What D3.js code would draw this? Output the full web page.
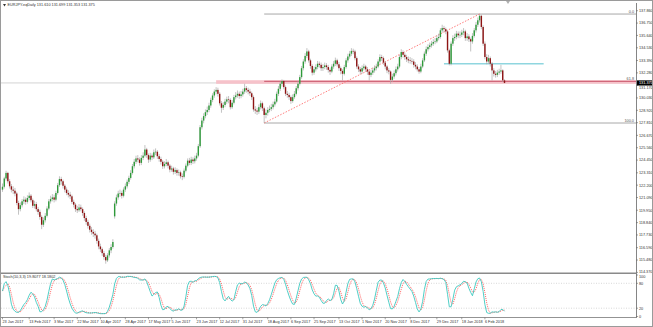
<!DOCTYPE html>
<html>
<head>
<meta charset="utf-8">
<script src="https://cdn.jsdelivr.net/npm/d3@7"></script>
<style>
  body { margin: 0; background: #fff; }
  svg { display: block; font-family: "Liberation Sans", Arial, sans-serif; }
</style>
</head>
<body>
<svg id="chart" width="653" height="327"></svg>
<script>
const symbolTitle = "EURJPY.eqDaily  131.610 131.699 131.353 131.375";
const stochTitle = "Stoch(10,3,3) 19.8077 18.1802";
const firstDay = "2017-01-23";

// daily bars: [open, high, low, close]
const bars = [
  [121.80,122.35,121.60,122.06],[122.06,122.95,121.90,122.80],[122.80,123.50,122.60,123.30],[123.30,123.40,122.35,122.55],[122.55,122.75,121.90,122.10],
  [122.10,122.30,121.55,121.80],[121.80,122.10,121.40,121.70],[121.70,121.95,121.20,121.45],[121.45,121.60,120.40,120.60],[120.60,120.80,119.55,120.05],
  [120.05,120.65,119.85,120.40],[120.40,120.95,120.20,120.75],[120.75,121.20,120.50,120.90],[120.90,121.10,120.45,120.70],[120.70,121.30,120.55,121.05],
  [121.05,121.55,120.85,121.25],[121.25,121.40,120.65,120.85],[120.85,121.00,120.15,120.35],[120.35,120.80,120.10,120.50],[120.50,120.70,119.85,120.05],
  [120.05,120.25,119.55,119.80],[119.80,120.00,119.10,119.35],[119.35,119.50,118.25,118.65],[118.65,119.30,118.45,119.05],[119.05,119.70,118.85,119.45],
  [119.45,120.30,119.30,120.10],[120.10,120.95,119.95,120.75],[120.75,121.25,120.55,120.95],[120.95,121.40,120.75,121.10],[121.10,121.35,120.65,120.90],
  [120.90,121.70,120.75,121.50],[121.50,122.40,121.35,122.20],[122.20,123.00,122.05,122.75],[122.75,122.95,122.25,122.55],[122.55,122.70,121.90,122.15],
  [122.15,122.30,121.55,121.80],[121.80,122.00,121.30,121.50],[121.50,121.75,121.10,121.35],[121.35,121.60,120.95,121.20],[121.20,121.35,120.50,120.70],
  [120.70,120.90,120.20,120.45],[120.45,120.60,119.80,120.05],[120.05,120.35,119.70,119.95],[119.95,120.50,119.80,120.20],[120.20,120.45,119.85,120.05],
  [120.05,120.20,119.45,119.70],[119.70,119.85,119.00,119.25],[119.25,119.45,118.65,118.90],[118.90,119.10,118.30,118.55],[118.55,118.75,117.95,118.20],
  [118.20,118.45,117.75,118.00],[118.00,118.25,117.55,117.85],[117.85,118.10,117.40,117.70],[117.70,117.85,116.95,117.20],[117.20,117.40,116.45,116.70],
  [116.70,116.95,116.20,116.45],[116.45,116.60,115.85,116.10],[116.10,116.30,115.50,115.75],[115.75,115.95,115.15,115.45],[115.45,116.10,115.30,115.90],
  [115.90,116.55,115.70,116.35],[116.35,116.90,116.10,116.65],[116.65,117.35,116.50,117.10],[119.40,120.75,119.20,120.55],[120.55,121.35,120.35,121.10],
  [121.10,121.70,120.90,121.45],[121.45,121.80,121.15,121.50],[121.50,121.70,121.00,121.25],[121.25,122.00,121.10,121.80],[121.80,122.35,121.60,122.10],
  [122.10,122.70,121.90,122.50],[122.50,123.05,122.30,122.85],[122.85,123.55,122.70,123.30],[123.30,124.10,123.15,123.90],[123.90,124.55,123.70,124.30],
  [124.30,124.85,124.10,124.60],[124.60,124.90,124.25,124.50],[124.50,124.70,123.95,124.20],[124.20,124.90,124.00,124.65],[124.65,125.15,124.45,124.85],
  [124.85,125.80,124.70,125.40],[125.40,125.55,124.65,124.90],[124.90,125.05,124.20,124.50],[124.50,125.10,124.30,124.85],[124.85,125.05,124.45,124.70],
  [124.70,125.40,124.55,125.15],[125.15,125.50,124.90,125.20],[125.20,125.35,124.55,124.80],[124.80,125.00,124.30,124.55],[124.55,124.75,124.05,124.30],
  [124.30,124.45,123.65,123.90],[123.90,124.35,123.70,124.10],[124.10,124.55,123.90,124.25],[124.25,124.40,123.70,123.95],[123.95,124.10,123.35,123.60],
  [123.60,123.95,123.40,123.70],[123.70,123.85,123.15,123.40],[123.40,123.80,123.20,123.55],[123.55,123.70,123.05,123.30],[123.30,123.60,123.05,123.35],
  [123.35,123.50,122.80,123.00],[123.00,123.25,122.65,122.95],[122.95,123.70,122.80,123.50],[123.50,124.15,123.35,123.95],[123.95,124.60,123.80,124.40],
  [124.40,124.65,124.00,124.20],[124.20,124.75,124.00,124.50],[124.50,124.70,124.10,124.35],[124.35,124.85,124.15,124.60],[124.60,125.10,124.40,124.85],
  [124.85,125.90,124.70,125.70],[125.70,127.60,125.55,127.40],[127.40,128.25,127.20,128.00],[128.00,128.65,127.75,128.40],[128.40,129.00,128.20,128.75],
  [128.75,129.25,128.50,128.95],[128.95,129.60,128.75,129.35],[129.35,130.05,129.15,129.85],[129.85,130.45,129.65,130.25],[130.25,130.80,130.05,130.60],
  [130.60,131.00,130.35,130.75],[130.75,130.95,130.15,130.40],[130.40,130.55,129.35,129.55],[129.55,129.75,128.70,129.15],[129.15,129.65,128.95,129.40],
  [129.40,129.95,129.20,129.70],[129.70,130.15,129.50,129.90],[129.90,130.20,129.55,129.85],[129.85,130.00,129.00,129.20],[129.20,129.85,129.05,129.60],
  [129.60,130.30,129.45,130.10],[130.10,130.55,129.90,130.25],[130.25,130.70,130.05,130.40],[130.40,130.60,129.95,130.20],[130.20,130.65,130.00,130.35],
  [130.35,130.85,130.15,130.60],[130.60,131.30,130.40,130.90],[130.90,131.10,130.50,130.75],[130.75,130.95,130.35,130.60],[130.60,130.85,130.20,130.45],
  [130.45,130.60,129.85,130.10],[130.10,130.25,128.80,129.00],[129.00,129.30,128.60,128.90],[128.90,129.15,128.50,128.80],[128.80,129.45,128.60,129.20],
  [129.20,129.80,129.00,129.55],[129.55,129.70,128.85,129.10],[129.10,129.25,127.78,128.50],[128.50,129.00,128.20,128.70],[128.70,129.20,128.45,128.95],
  [128.95,129.35,128.75,129.05],[129.05,129.50,128.85,129.20],[129.20,129.70,129.00,129.45],[129.45,129.95,129.25,129.70],[129.70,130.60,129.55,130.40],
  [130.40,131.10,130.20,130.85],[130.85,131.50,130.65,131.30],[131.30,131.70,131.05,131.55],[131.55,131.65,130.80,131.00],[131.00,131.15,130.20,130.40],
  [130.40,130.65,130.05,130.30],[130.30,130.50,129.85,130.10],[130.10,130.25,129.50,129.75],[129.75,130.35,129.60,130.10],[130.10,130.65,129.95,130.40],
  [130.40,131.10,130.25,130.90],[130.90,131.55,130.70,131.30],[131.30,132.10,131.15,131.90],[131.90,132.90,131.75,132.70],[132.70,133.50,132.50,133.30],
  [133.30,134.05,133.10,133.80],[133.80,134.50,133.60,134.20],[134.20,134.35,133.20,133.40],[133.40,133.55,132.65,132.90],[132.90,133.05,132.05,132.30],
  [132.30,132.85,132.10,132.60],[132.60,133.05,132.40,132.80],[132.80,133.35,132.60,133.10],[133.10,133.30,132.75,133.00],[133.00,133.20,132.45,132.70],
  [132.70,133.05,132.45,132.80],[132.80,133.20,132.60,132.95],[132.95,133.15,132.55,132.80],[132.80,133.00,132.30,132.55],[132.55,132.75,132.10,132.40],
  [132.40,133.05,132.25,132.85],[132.85,133.35,132.65,133.10],[133.10,133.65,132.90,133.40],[133.40,133.55,132.85,133.05],[133.05,133.25,132.45,132.70],
  [132.70,132.85,132.15,132.45],[132.45,132.60,131.60,132.20],[132.20,133.00,132.05,132.80],[132.80,133.60,132.65,133.40],[133.40,134.00,133.20,133.75],
  [133.75,134.25,133.55,134.00],[134.00,134.50,133.80,134.25],[134.25,134.45,133.95,134.20],[134.20,134.35,133.40,133.60],[133.60,133.75,132.65,132.85],
  [132.85,133.05,132.35,132.60],[132.60,132.80,132.15,132.40],[132.40,132.95,132.20,132.70],[132.70,133.10,132.50,132.85],[132.85,133.00,132.35,132.60],
  [132.60,132.80,132.10,132.40],[132.40,132.55,131.60,132.10],[132.10,132.55,131.90,132.30],[132.30,132.75,132.10,132.50],[132.50,132.95,132.30,132.70],
  [132.70,133.10,132.50,132.85],[132.85,133.50,132.70,133.30],[133.30,133.95,133.10,133.70],[133.70,133.90,133.35,133.60],[133.60,133.75,133.00,133.20],
  [133.20,133.35,132.60,132.85],[132.85,133.00,132.25,132.50],[132.50,132.70,132.15,132.40],[132.40,132.50,131.30,131.65],[131.65,132.20,131.45,131.95],
  [131.95,132.50,131.75,132.25],[132.25,132.85,132.05,132.60],[132.60,133.10,132.40,132.85],[132.85,133.90,132.70,133.70],[133.70,134.40,133.50,134.15],
  [134.15,134.30,133.65,133.90],[133.90,134.10,133.45,133.70],[133.70,133.90,133.25,133.50],[133.50,133.75,133.15,133.40],[133.40,133.70,133.10,133.35],
  [133.35,133.60,133.05,133.30],[133.30,133.50,132.75,133.00],[133.00,133.25,132.60,132.85],[132.85,133.05,132.40,132.60],[132.60,132.80,132.20,132.40],
  [132.40,133.10,132.25,132.85],[132.85,133.60,132.70,133.40],[133.40,134.20,133.25,134.00],[134.00,134.65,133.80,134.40],[134.40,134.85,134.20,134.60],
  [134.60,135.00,134.40,134.75],[134.75,135.15,134.55,134.90],[134.90,135.30,134.70,135.05],[135.05,135.40,134.85,135.10],[135.10,135.65,134.95,135.40],
  [135.40,135.80,135.20,135.50],[135.50,136.30,135.35,136.10],[136.10,136.60,135.90,136.30],[136.30,136.50,135.95,136.20],[136.20,136.35,135.75,136.00],
  [136.00,136.10,134.10,134.30],[134.30,134.45,132.95,133.10],[133.10,135.10,132.95,134.90],[134.90,135.65,134.70,135.40],[135.40,135.80,135.15,135.50],
  [135.50,136.05,135.30,135.80],[135.80,136.00,135.40,135.65],[135.65,136.00,135.40,135.70],[135.70,136.15,135.50,135.90],[135.90,136.30,135.65,136.00],
  [136.00,136.15,135.15,135.40],[135.40,135.85,135.15,135.55],[135.55,135.75,135.05,135.30],[135.30,135.45,134.20,135.10],[135.10,135.85,134.90,135.60],
  [135.60,136.30,135.45,136.10],[136.10,136.85,135.90,136.60],[136.60,137.25,136.40,137.00],[137.00,137.56,136.80,137.40],[137.40,137.50,136.20,136.40],
  [136.40,136.55,134.70,134.90],[134.90,135.10,133.50,133.70],[133.70,133.95,133.05,133.30],[133.30,133.90,133.10,133.60],[133.60,133.75,132.85,133.10],
  [133.10,133.25,131.60,132.50],[132.50,132.70,131.95,132.20],[132.20,132.45,131.85,132.10],[132.10,132.55,131.90,132.30],[132.30,132.65,132.10,132.40],
  [132.40,133.00,132.20,132.50],[132.50,132.60,131.45,131.61],[131.610,131.699,131.353,131.375]
];

const priceTicks = [137.860, 136.750, 135.640, 134.530, 133.390, 132.280, 131.170, 130.030, 128.920, 127.810, 126.670,
  125.560, 124.450, 123.310, 122.200, 121.090, 119.950, 118.840, 117.730, 116.590, 115.480, 114.370];
const dateTicks = ["23 Jan 2017", "13 Feb 2017", "3 Mar 2017", "22 Mar 2017", "10 Apr 2017", "28 Apr 2017", "17 May 2017",
  "5 Jun 2017", "23 Jun 2017", "12 Jul 2017", "31 Jul 2017", "18 Aug 2017", "6 Sep 2017", "25 Sep 2017", "13 Oct 2017",
  "1 Nov 2017", "20 Nov 2017", "8 Dec 2017", "29 Dec 2017", "18 Jan 2018", "6 Feb 2018"];
const stochTicks = [100, 80, 20, 0];
const stochLevels = [80, 20];

// drawn objects: fibo from the swing low bar to the swing high bar
const fibAnchors = [{ bar: 147, price: 127.78 }, { bar: 268, price: 137.56 }];
const fibLevels = [0, 61.8, 100];
const zoneBand = { fromBar: 120, top: 131.62, bottom: 131.30 };
const cyanLine = { fromBar: 248, toBar: 304, price: 133.10 };

// trading days (Mon-Fri) for the bars
const dates = [];
for (let d = new Date(firstDay + "T00:00:00"); dates.length < bars.length; d.setDate(d.getDate() + 1)) {
  if (d.getDay() !== 0 && d.getDay() !== 6) dates.push(new Date(d));
}
const fmtKey = d3.timeFormat("%Y-%m-%d");
const parseTick = d3.timeParse("%d %b %Y");

const svg = d3.select("#chart");
const W = 653, H = 327;
const axisX = 636;
const mainTop = 3, mainBottom = 272.5, subBottom = 317.5;
const fs = 3.8;

const x = d3.scaleLinear().domain([0, bars.length - 1]).range([2.5, 504.5]);
const y = d3.scaleLinear().domain([114.37, 137.86]).range([272.4, 10.7]);
const ys = d3.scaleLinear().domain([0, 100]).range([316.5, 275]);

svg.append("rect").attr("width", W).attr("height", H).attr("fill", "#fff");

const main = svg.append("g");
main.append("clipPath").attr("id", "clipMain")
  .append("rect").attr("x", 1).attr("y", mainTop).attr("width", axisX - 1).attr("height", mainBottom - mainTop);
const plot = main.append("g").attr("clip-path", "url(#clipMain)");

const last = bars[bars.length - 1];

// current price line
plot.append("line")
  .attr("x1", 1).attr("x2", axisX)
  .attr("y1", y(last[3])).attr("y2", y(last[3]))
  .attr("stroke", "#c8c8c8").attr("stroke-width", 0.8);

// pink zone
plot.append("rect")
  .attr("x", x(zoneBand.fromBar)).attr("width", axisX - x(zoneBand.fromBar))
  .attr("y", y(zoneBand.top)).attr("height", y(zoneBand.bottom) - y(zoneBand.top))
  .attr("fill", "#f6c2ca");

// fibo levels
const fibLo = fibAnchors[0], fibHi = fibAnchors[1];
fibLevels.forEach(lv => {
  const p = fibHi.price - (fibHi.price - fibLo.price) * lv / 100;
  plot.append("line")
    .attr("x1", x(fibLo.bar)).attr("x2", axisX)
    .attr("y1", y(p)).attr("y2", y(p))
    .attr("stroke", lv === 61.8 ? "#d0687a" : "#a8a8a8")
    .attr("stroke-width", lv === 61.8 ? 1.2 : 1);
  plot.append("text")
    .attr("x", axisX - 2).attr("y", y(p) - 1)
    .attr("text-anchor", "end")
    .attr("font-size", fs).attr("fill", "#555")
    .text(lv.toFixed(1));
});

// fibo trend line (dotted)
plot.append("line")
  .attr("x1", x(fibLo.bar)).attr("y1", y(fibLo.price))
  .attr("x2", x(fibHi.bar)).attr("y2", y(fibHi.price))
  .attr("stroke", "#ff5a5a").attr("stroke-width", 0.8)
  .attr("stroke-dasharray", "1.5,1.5");

// cyan level
plot.append("line")
  .attr("x1", x(cyanLine.fromBar)).attr("x2", x(cyanLine.toBar))
  .attr("y1", y(cyanLine.price)).attr("y2", y(cyanLine.price))
  .attr("stroke", "#8fd6df").attr("stroke-width", 1.6);

// candles
const candle = plot.selectAll(".candle")
  .data(bars)
  .enter()
  .append("g")
  .attr("class", "candle");

candle.append("line")
  .attr("x1", (d, i) => x(i)).attr("x2", (d, i) => x(i))
  .attr("y1", d => y(d[1])).attr("y2", d => y(d[2]))
  .attr("stroke", "#a9a9a9").attr("stroke-width", 0.7);

candle.append("rect")
  .attr("x", (d, i) => x(i) - 0.7)
  .attr("width", 1.4)
  .attr("y", d => y(Math.max(d[0], d[3])))
  .attr("height", d => Math.max(0.6, Math.abs(y(d[0]) - y(d[3]))))
  .attr("fill", d => d[3] >= d[0] ? "#2e9a3a" : "#8e1414");

// header
svg.append("path")
  .attr("d", "M3,4 L6,4 L4.5,6.5 Z").attr("fill", "#333");
svg.append("text")
  .attr("x", 7.5).attr("y", 6.4)
  .attr("font-size", fs).attr("fill", "#333")
  .text(symbolTitle);

// chart shift marker
svg.append("path").attr("d", "M506,1 L510,1 L508,4 Z").attr("fill", "#b0b0b0");

// right price axis
svg.append("line")
  .attr("x1", axisX + 0.5).attr("x2", axisX + 0.5)
  .attr("y1", mainTop).attr("y2", subBottom)
  .attr("stroke", "#666").attr("stroke-width", 0.8);

const lastY = y(last[3]);
const pAxis = svg.append("g").selectAll("g")
  .data(priceTicks).enter().append("g")
  .attr("transform", d => `translate(${axisX},${y(d)})`);
pAxis.append("line").attr("x1", 0).attr("x2", 2).attr("stroke", "#666").attr("stroke-width", 0.6);
pAxis.append("text")
  .attr("x", 3)
  .attr("dy", d => Math.abs(y(d) - lastY) < 5 ? "0.9em" : (d === 114.37 ? "0.05em" : "0.35em"))
  .attr("font-size", fs).attr("fill", "#333")
  .text(d => d.toFixed(3));

// current price label
svg.append("rect")
  .attr("x", axisX + 1).attr("y", lastY - 2.6)
  .attr("width", W - axisX - 1).attr("height", 5.2)
  .attr("fill", "#000");
svg.append("text")
  .attr("x", axisX + 3).attr("y", lastY).attr("dy", "0.35em")
  .attr("font-size", fs).attr("fill", "#fff")
  .text(last[3].toFixed(3));

// pane separators
svg.append("line").attr("x1", 0).attr("x2", axisX + 1)
  .attr("y1", 273.2).attr("y2", 273.2).attr("stroke", "#8a8a8a").attr("stroke-width", 1.4);
svg.append("line").attr("x1", 0).attr("x2", axisX + 1)
  .attr("y1", subBottom).attr("y2", subBottom).attr("stroke", "#777").attr("stroke-width", 0.8);

// stochastic (10,3,3) from the bars
const kPeriod = 10, slowing = 3, dPeriod = 3;
const num = [], den = [];
bars.forEach((b, i) => {
  const win = bars.slice(Math.max(0, i - kPeriod + 1), i + 1);
  const hh = d3.max(win, d => d[1]), ll = d3.min(win, d => d[2]);
  num.push(b[3] - ll); den.push(hh - ll);
});
const mainK = bars.map((b, i) => {
  const a = Math.max(0, i - slowing + 1);
  const s = d3.sum(den.slice(a, i + 1));
  return s === 0 ? 100 : d3.sum(num.slice(a, i + 1)) / s * 100;
});
const signalD = mainK.map((v, i) => d3.mean(mainK.slice(Math.max(0, i - dPeriod + 1), i + 1)));

const sub = svg.append("g");
stochLevels.forEach(lv => {
  sub.append("line")
    .attr("x1", 1).attr("x2", axisX)
    .attr("y1", ys(lv)).attr("y2", ys(lv))
    .attr("stroke", "#bdbdbd").attr("stroke-width", 0.6)
    .attr("stroke-dasharray", "1,1.5");
});
const sLine = d3.line().x((d, i) => x(i)).y(d => ys(d));
sub.append("path").datum(signalD)
  .attr("d", sLine).attr("fill", "none")
  .attr("stroke", "#ff3b3b").attr("stroke-width", 0.8)
  .attr("stroke-dasharray", "1,1");
sub.append("path").datum(mainK)
  .attr("d", sLine).attr("fill", "none")
  .attr("stroke", "#3cc8c0").attr("stroke-width", 0.9);

sub.append("text")
  .attr("x", 3).attr("y", 278.4)
  .attr("font-size", fs).attr("fill", "#333")
  .text(stochTitle);

const sAxis = svg.append("g").selectAll("g")
  .data(stochTicks).enter().append("g")
  .attr("transform", d => `translate(${axisX},${ys(d)})`);
sAxis.append("line").attr("x1", 0).attr("x2", 2).attr("stroke", "#666").attr("stroke-width", 0.6);
sAxis.append("text")
  .attr("x", 3).attr("dy", d => d === 100 ? "0.75em" : "0.35em")
  .attr("font-size", fs).attr("fill", "#333")
  .text(d => d);

// date axis
const dateIndex = new Map(dates.map((d, i) => [fmtKey(d), i]));
const dAxis = svg.append("g").selectAll("g")
  .data(dateTicks.filter(t => dateIndex.has(fmtKey(parseTick(t)))))
  .enter().append("g")
  .attr("transform", t => `translate(${x(dateIndex.get(fmtKey(parseTick(t))))},${subBottom})`);
dAxis.append("line").attr("y1", 0).attr("y2", 1.8).attr("stroke", "#666").attr("stroke-width", 0.6);
dAxis.append("text")
  .attr("x", 0).attr("y", 5.4)
  .attr("font-size", fs).attr("fill", "#333")
  .text(t => t);

// window frame
svg.append("rect")
  .attr("x", 0.5).attr("y", 0.5).attr("width", W - 1).attr("height", H - 1)
  .attr("fill", "none").attr("stroke", "#9a9a9a").attr("stroke-width", 1);
</script>
</body>
</html>
